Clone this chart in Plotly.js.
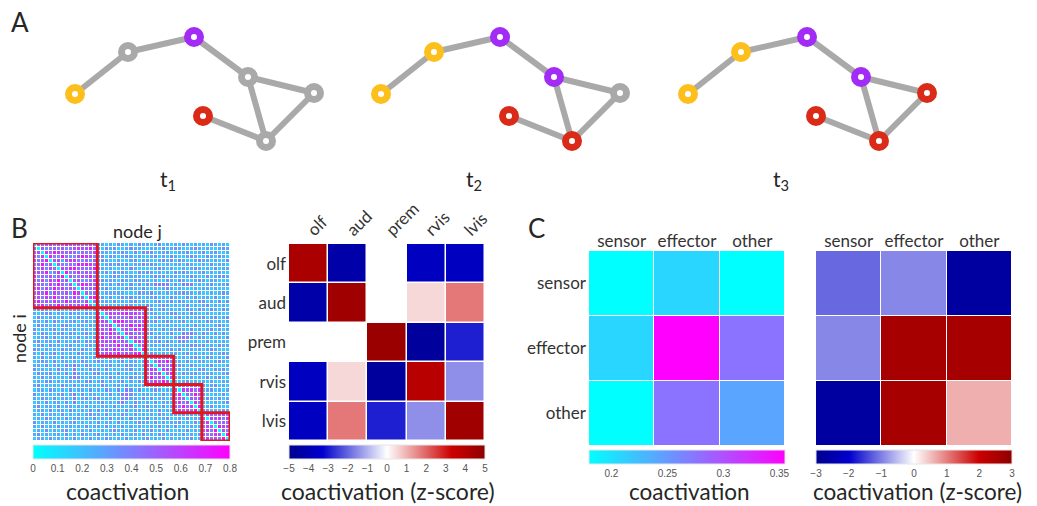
<!DOCTYPE html>
<html><head><meta charset="utf-8">
<script src="https://cdn.plot.ly/plotly-3.0.1.min.js"></script>
<style>html,body{margin:0;padding:0;background:#fff;}#chart{width:1037px;height:506px;}</style>
</head><body><div id="chart"></div>
<script>
// ---------- Panel A: network snapshots ----------
const nodeX = [75, 128, 194, 248, 314, 203, 266];
const nodeY = [94, 52, 37, 77, 93, 116, 141];
const edges = [[0,1],[1,2],[2,3],[3,4],[3,6],[4,6],[5,6]];
const timeLabels = ['t<sub>1</sub>', 't<sub>2</sub>', 't<sub>3</sub>'];
const nodeStates = [
  ['y','g','p','g','g','r','g'],
  ['y','y','p','p','g','r','r'],
  ['y','y','p','p','r','r','r']
];
const stateColors = {y:'#FDBF1B', g:'#A9A9A9', p:'#A22BF5', r:'#DA2A18'};

// ---------- Panel B left: node x node coactivation (lower triangle, coded levels) ----------
const moduleSizes = [16, 12, 7, 7, 7];
const levelValues = [0, 0.16, 0.27, 0.35, 0.42, 0.48, 0.55, 0.62, 0.72, 0.80];
const coactRows = [
 "0","50","460","5370","64580","358460","5473650","46582470","735463580","5463758460",
 "46537485360","573648574650","4658375463870","36475846537450","584637548465370","4573648537465840",
 "1232123112321213"+"0",
 "2123312213221321"+"5"+"0",
 "1321221312132122"+"64"+"0",
 "2213132122312312"+"576"+"0",
 "1322121332122131"+"4657"+"0",
 "3121231221312212"+"56485"+"0",
 "2132122313212321"+"475864"+"0",
 "1223131222131213"+"5846576"+"0",
 "2312213121321322"+"46758465"+"0",
 "1231322123121231"+"574658476"+"0",
 "3212121322313212"+"6574856473"+"0",
 "2131231212132121"+"45675846578"+"0",
 "2131221312312213"+"212312213121"+"0",
 "1232131221213212"+"321212312213"+"5"+"0",
 "2213122132421321"+"122312132212"+"64"+"0",
 "3121213221412132"+"213121223121"+"576"+"0",
 "1322312131421213"+"312213121312"+"4657"+"0",
 "2131221213432122"+"121321213221"+"58465"+"0",
 "1213312122121331"+"231212312132"+"647586"+"0",
 "2312121321312212"+"132122131212"+"2132131"+"0",
 "1221321213122131"+"213213143131"+"1232121"+"6"+"0",
 "3121212312413122"+"121312443212"+"2121312"+"57"+"0",
 "2132131221412313"+"312121342213"+"1312213"+"465"+"0",
 "1213122131412121"+"231213421321"+"2131221"+"5746"+"0",
 "2312213122121312"+"122131212312"+"3121312"+"64857"+"0",
 "1221312213212131"+"312212131221"+"2213121"+"475648"+"0",
 "2131221312121232"+"213121321312"+"1213212"+"2131213"+"0",
 "1213212131221213"+"121312213121"+"3121231"+"1213122"+"6"+"0",
 "3122131212312121"+"312213121232"+"2131212"+"2312131"+"57"+"0",
 "2131213122121312"+"213121312121"+"1213121"+"3121212"+"465"+"0",
 "1213121231212131"+"121232121312"+"2312131"+"1213121"+"5748"+"0",
 "2312122131213212"+"312121312213"+"1213212"+"2131213"+"64576"+"0",
 "1221312121312131"+"213212131212"+"3121312"+"1212312"+"475648"+"0"
];

// ---------- Panel B right: region coactivation z-scores ----------
const regions = ['olf','aud','prem','rvis','lvis'];
const regionZ = [
 [ 4.25, -4.3,  0.0, -3.6, -3.6],
 [-4.3,   4.5,  0.0,  0.5,  1.75],
 [ 0.0,   0.0,  4.7, -4.6, -2.9],
 [-3.6,   0.5, -4.6,  3.85,-1.45],
 [-3.6,   1.75,-2.9, -1.45, 4.5]
];

// ---------- Panel C: class coactivation ----------
const classes = ['sensor','effector','other'];
const classCoact = [
 [0.180, 0.208, 0.180],
 [0.208, 0.355, 0.276],
 [0.180, 0.276, 0.242]
];
const classZ = [
 [-1.17, -0.93, -2.7],
 [-0.93,  2.6,   2.6],
 [-2.7,   2.6,   0.62]
];

// ---------- build ----------
const W = 1037, H = 506;
const px = v => v / W;
const py = v => 1 - v / H;
const FONT = 'Lato, "Open Sans", sans-serif';
const TXT = '#262626';

const traces = [];
const layout = {
  width: W, height: H, margin: {l:0, r:0, t:0, b:0},
  paper_bgcolor: '#fff', plot_bgcolor: 'rgba(0,0,0,0)',
  showlegend: false, font: {family: FONT, color: TXT},
  annotations: [], shapes: []
};

// network subplots
const netDomains = [[0, 340], [306, 646], [613, 953]];
nodeStates.forEach((states, k) => {
  const ax = k === 0 ? '' : String(k + 1);
  const ex = [], ey = [];
  edges.forEach(([a, b]) => { ex.push(nodeX[a], nodeX[b], null); ey.push(nodeY[a], nodeY[b], null); });
  traces.push({type:'scatter', mode:'lines', x: ex, y: ey, xaxis:'x'+ax, yaxis:'y'+ax,
    line:{color:'#A9A9A9', width:6}, hoverinfo:'skip', cliponaxis:false});
  traces.push({type:'scatter', mode:'markers', x: nodeX, y: nodeY, xaxis:'x'+ax, yaxis:'y'+ax,
    marker:{size:13, color:'#fff', line:{width:7, color: states.map(s => stateColors[s])}},
    hoverinfo:'skip', cliponaxis:false});
  layout['xaxis'+ax] = {domain:[px(netDomains[k][0]), px(netDomains[k][1])], range:[0, 340],
    visible:false, fixedrange:true, anchor:'y'+ax};
  layout['yaxis'+ax] = {domain:[py(200), 1], range:[200, 0], visible:false, fixedrange:true, anchor:'x'+ax};
  layout.annotations.push({xref:'x'+ax, yref:'y'+ax, x:168, y:180, text: timeLabels[k], showarrow:false,
    font:{size:21, family:FONT, color:TXT}});
});

// node matrix
const n = coactRows.length;
const zNode = Array.from({length:n}, () => new Array(n).fill(0));
coactRows.forEach((row, i) => {
  for (let j = 0; j < row.length; j++) { const v = levelValues[Number(row[j])]; zNode[i][j] = v; zNode[j][i] = v; }
});
const cool = [[0,'#00FFFF'],[1,'#FF00FF']];
const bwr = [[0,'#00008F'],[0.17,'#0000CC'],[0.5,'#FFFFFF'],[0.83,'#CC0000'],[1,'#8F0000']];
const cbBase = {orientation:'h', xanchor:'left', yanchor:'top', lenmode:'pixels', thickness:14,
  thicknessmode:'pixels', xpad:0, ypad:0, outlinewidth:1, outlinecolor:'#e6e6e6', ticks:'',
  tickfont:{family:'"Liberation Sans", Arial, sans-serif', size:10, color:'#555'}};

traces.push({type:'heatmap', z: zNode, xaxis:'x4', yaxis:'y4', colorscale: cool, zmin:0, zmax:0.8,
  xgap:1, ygap:1, hoverinfo:'skip',
  colorbar: Object.assign({}, cbBase, {x:px(33), y:py(445), len:197, tickvals:[0,0.1,0.2,0.3,0.4,0.5,0.6,0.7,0.8], ticktext:['0','0.1','0.2','0.3','0.4','0.5','0.6','0.7','0.8']})});
layout.xaxis4 = {domain:[px(33), px(230)], range:[-0.5, n - 0.5], visible:false, fixedrange:true, anchor:'y4'};
layout.yaxis4 = {domain:[py(441), py(243)], range:[n - 0.5, -0.5], visible:false, fixedrange:true, anchor:'x4'};
let start = 0;
moduleSizes.forEach(s => {
  layout.shapes.push({type:'rect', xref:'x4', yref:'y4', x0:start - 0.5, x1:start + s - 0.5,
    y0:start - 0.5, y1:start + s - 0.5, line:{color:'#E8141B', width:3}});
  start += s;
});

// region matrix
traces.push({type:'heatmap', z: regionZ, x: regions, y: regions, xaxis:'x5', yaxis:'y5', colorscale: bwr,
  zmin:-5, zmax:5, xgap:1.5, ygap:1.5, hoverinfo:'skip',
  colorbar: Object.assign({}, cbBase, {x:px(289), y:py(445), len:196, tickvals:[-5,-4,-3,-2,-1,0,1,2,3,4,5]})});
const catTick = {family:FONT, size:17, color:'#333'};
layout.xaxis5 = {domain:[px(289), px(485)], side:'top', tickangle:-45, tickfont:catTick, showgrid:false,
  zeroline:false, ticks:'', fixedrange:true, anchor:'y5', showline:false};
layout.yaxis5 = {domain:[py(441), py(244)], autorange:'reversed', tickfont:catTick, showgrid:false,
  zeroline:false, ticks:'', fixedrange:true, anchor:'x5', ticklabelstandoff:2};

// class matrices
traces.push({type:'heatmap', z: classCoact, x: classes, y: classes, xaxis:'x6', yaxis:'y6', colorscale: cool,
  zmin:0.18, zmax:0.355, xgap:1, ygap:1, hoverinfo:'skip',
  colorbar: Object.assign({}, cbBase, {x:px(589), y:py(449.5), len:196, tickvals:[0.2,0.25,0.3,0.35], ticktext:['0.2','0.25','0.3','0.35']})});
layout.xaxis6 = {domain:[px(589), px(785)], side:'top', tickfont:catTick, showgrid:false, zeroline:false,
  ticks:'', fixedrange:true, anchor:'y6'};
layout.yaxis6 = {domain:[py(446), py(251)], autorange:'reversed', tickfont:catTick, showgrid:false,
  zeroline:false, ticks:'', fixedrange:true, anchor:'x6', ticklabelstandoff:2};

traces.push({type:'heatmap', z: classZ, x: classes, y: classes, xaxis:'x7', yaxis:'y7', colorscale: bwr,
  zmin:-3, zmax:3, xgap:1, ygap:1, hoverinfo:'skip',
  colorbar: Object.assign({}, cbBase, {x:px(816), y:py(449.5), len:196, tickvals:[-3,-2,-1,0,1,2,3]})});
layout.xaxis7 = {domain:[px(816), px(1012)], side:'top', tickfont:catTick, showgrid:false, zeroline:false,
  ticks:'', fixedrange:true, anchor:'y7'};
layout.yaxis7 = {domain:[py(446), py(251)], autorange:'reversed', showticklabels:false, showgrid:false,
  zeroline:false, ticks:'', fixedrange:true, anchor:'x7'};

// text annotations
const ann = (x, y, text, size, extra) => layout.annotations.push(Object.assign({xref:'paper', yref:'paper',
  x:px(x), y:py(y), text, showarrow:false, xanchor:'center', yanchor:'middle', borderpad:0,
  font:{family:FONT, size, color:TXT}}, extra || {}));
ann(20, 22, 'A', 26);
ann(19, 228, 'B', 26);
ann(536, 228, 'C', 26);
ann(137, 231, 'node j', 18);
ann(19, 339, 'node i', 18, {textangle:-90});
ann(127, 491, 'coactivation', 23);
ann(388, 491, 'coactivation (z-score)', 23);
ann(689, 506, 'coactivation', 22.5, {yanchor:'bottom'});
ann(917, 506, 'coactivation (z-score)', 22.5, {yanchor:'bottom'});

Plotly.newPlot('chart', traces, layout, {staticPlot:true, displayModeBar:false});
</script></body></html>
